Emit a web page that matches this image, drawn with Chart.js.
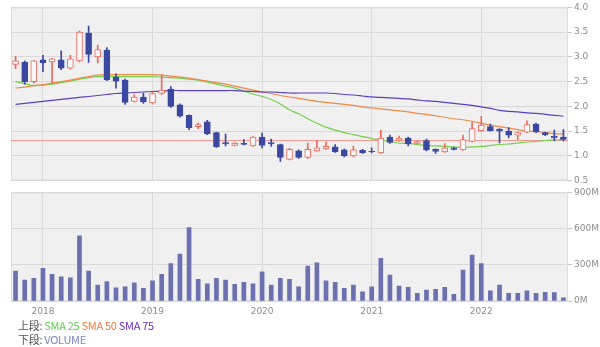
<!DOCTYPE html>
<html lang="ja">
<head>
<meta charset="utf-8">
<title>月足チャート</title>
<script src="https://cdn.jsdelivr.net/npm/chart.js@4/dist/chart.umd.min.js"></script>
<style>
  body {
    margin: 0;
    width: 600px;
    height: 347px;
    position: relative;
    overflow: hidden;
    background: #fff;
    font-family: "Noto Sans CJK JP", "Noto Sans", sans-serif;
  }
  #priceChart { position: absolute; left: 0; top: 0; }
  #volumeChart { position: absolute; left: 0; top: 185px; }
  .note {
    position: absolute;
    left: 18px;
    font-size: 11px;
    line-height: 14px;
    color: #555;
    letter-spacing: -0.3px;
    white-space: nowrap;
  }
  .sma25 { color: #5ccf4a; }
  .sma50 { color: #f07a3a; }
  .sma75 { color: #6a2db5; }
  .vol { color: #7a86bf; }
</style>
</head>
<body>
<canvas id="priceChart" width="600" height="188"></canvas>
<canvas id="volumeChart" width="600" height="135"></canvas>
<div class="note" style="top:318px">上段: <span class="sma25">SMA 25</span> <span class="sma50">SMA 50</span> <span class="sma75">SMA 75</span></div>
<div class="note" style="top:332px">下段: <span class="vol">VOLUME</span></div>

<script>
// 月足 (2017/10 〜 2022/10)
const months = [
  "2017-10", "2017-11", "2017-12",
  "2018-01", "2018-02", "2018-03", "2018-04", "2018-05", "2018-06",
  "2018-07", "2018-08", "2018-09", "2018-10", "2018-11", "2018-12",
  "2019-01", "2019-02", "2019-03", "2019-04", "2019-05", "2019-06",
  "2019-07", "2019-08", "2019-09", "2019-10", "2019-11", "2019-12",
  "2020-01", "2020-02", "2020-03", "2020-04", "2020-05", "2020-06",
  "2020-07", "2020-08", "2020-09", "2020-10", "2020-11", "2020-12",
  "2021-01", "2021-02", "2021-03", "2021-04", "2021-05", "2021-06",
  "2021-07", "2021-08", "2021-09", "2021-10", "2021-11", "2021-12",
  "2022-01", "2022-02", "2022-03", "2022-04", "2022-05", "2022-06",
  "2022-07", "2022-08", "2022-09", "2022-10"
];

const opens = [
  2.85, 2.89, 2.50,
  2.94, 2.90, 2.94, 2.77, 2.92, 3.48, 3.00, 3.14, 2.59, 2.53, 2.10, 2.19,
  2.07, 2.26, 2.35, 2.03, 1.82, 1.59, 1.69, 1.47, 1.27, 1.21, 1.26, 1.20,
  1.38, 1.27, 1.23, 0.93, 1.10, 0.97, 1.10, 1.14, 1.18, 1.12, 1.00, 1.11,
  1.09, 1.06, 1.38, 1.31, 1.36, 1.25, 1.31, 1.13, 1.08, 1.16, 1.12, 1.29,
  1.51, 1.59, 1.54, 1.50, 1.42, 1.48, 1.64, 1.47, 1.40, 1.38
];
const highs = [
  3.01, 2.92, 2.93,
  3.03, 2.97, 3.12, 3.03, 3.52, 3.62, 3.24, 3.19, 2.66, 2.55, 2.24, 2.27,
  2.29, 2.64, 2.40, 2.05, 1.83, 1.66, 1.72, 1.48, 1.44, 1.27, 1.33, 1.39,
  1.46, 1.34, 1.24, 1.15, 1.12, 1.26, 1.31, 1.28, 1.23, 1.14, 1.20, 1.13,
  1.16, 1.52, 1.42, 1.40, 1.38, 1.30, 1.34, 1.14, 1.25, 1.17, 1.42, 1.68,
  1.80, 1.64, 1.55, 1.57, 1.48, 1.71, 1.66, 1.48, 1.52, 1.53
];
const lows = [
  2.76, 2.45, 2.47,
  2.70, 2.47, 2.74, 2.75, 2.90, 2.89, 2.88, 2.52, 2.37, 2.04, 2.09, 2.06,
  2.05, 2.24, 1.98, 1.78, 1.53, 1.55, 1.43, 1.17, 1.20, 1.20, 1.22, 1.19,
  1.16, 1.19, 0.89, 0.92, 0.95, 0.95, 1.09, 1.13, 1.07, 0.98, 0.98, 1.05,
  1.06, 1.05, 1.25, 1.30, 1.20, 1.24, 1.10, 1.05, 1.07, 1.12, 1.11, 1.28,
  1.50, 1.50, 1.26, 1.36, 1.33, 1.47, 1.47, 1.41, 1.30, 1.30
];
const closes = [
  2.92, 2.50, 2.92,
  2.88, 2.96, 2.77, 2.96, 3.50, 3.05, 3.15, 2.54, 2.51, 2.08, 2.19, 2.09,
  2.26, 2.33, 2.00, 1.80, 1.57, 1.63, 1.45, 1.18, 1.24, 1.26, 1.23, 1.38,
  1.21, 1.24, 0.97, 1.13, 0.97, 1.13, 1.16, 1.19, 1.08, 1.00, 1.12, 1.06,
  1.08, 1.36, 1.27, 1.36, 1.24, 1.29, 1.12, 1.09, 1.16, 1.13, 1.33, 1.55,
  1.62, 1.51, 1.50, 1.42, 1.47, 1.63, 1.49, 1.43, 1.37, 1.33
];

// 移動平均
const sma25 = [
  2.50, 2.46, 2.42,
  2.43, 2.45, 2.48, 2.51, 2.55, 2.58, 2.60, 2.60, 2.60, 2.60, 2.60, 2.60,
  2.60, 2.59, 2.58, 2.57, 2.55, 2.53, 2.49, 2.45, 2.41, 2.37, 2.31, 2.25,
  2.20, 2.14, 2.05, 1.93, 1.85, 1.75, 1.66, 1.58, 1.52, 1.47, 1.43, 1.39,
  1.35, 1.32, 1.29, 1.26, 1.25, 1.23, 1.21, 1.20, 1.19, 1.18, 1.17, 1.18,
  1.19, 1.21, 1.23, 1.24, 1.26, 1.28, 1.29, 1.31, 1.32, 1.33
];
const sma50 = [
  2.37, 2.39, 2.42,
  2.44, 2.47, 2.50, 2.53, 2.57, 2.60, 2.63, 2.64, 2.64, 2.64, 2.64, 2.64,
  2.64, 2.63, 2.61, 2.59, 2.57, 2.54, 2.51, 2.48, 2.45, 2.41, 2.37, 2.33,
  2.29, 2.26, 2.22, 2.19, 2.16, 2.13, 2.10, 2.08, 2.06, 2.04, 2.02, 1.99,
  1.97, 1.95, 1.93, 1.91, 1.89, 1.86, 1.84, 1.81, 1.78, 1.75, 1.73, 1.70,
  1.66, 1.62, 1.59, 1.56, 1.53, 1.50, 1.49, 1.47, 1.45, 1.44
];
const sma75 = [
  2.04, 2.06, 2.08,
  2.10, 2.12, 2.14, 2.16, 2.18, 2.20, 2.22, 2.24, 2.26, 2.27, 2.28, 2.29,
  2.30, 2.31, 2.32, 2.32, 2.32, 2.32, 2.32, 2.32, 2.32, 2.32, 2.31, 2.30,
  2.29, 2.29, 2.28, 2.27, 2.27, 2.27, 2.27, 2.27, 2.26, 2.24, 2.23, 2.21,
  2.19, 2.18, 2.17, 2.16, 2.15, 2.13, 2.11, 2.10, 2.08, 2.06, 2.04, 2.02,
  1.99, 1.96, 1.92, 1.90, 1.89, 1.87, 1.86, 1.84, 1.82, 1.80
];

// 出来高 (百万株)
const volumes = [
  248, 174, 188,
  270, 220, 201, 193, 540, 248, 132, 160, 110, 118, 151, 105,
  168, 220, 311, 388, 609, 179, 143, 188, 174, 138, 155, 143,
  242, 132, 188, 179, 118, 289, 317, 168, 155, 105, 132, 77,
  118, 353, 215, 124, 113, 64, 91, 97, 113, 55, 256, 380,
  311, 85, 132, 64, 64, 85, 64, 72, 69, 27
];

const priceTicks = [0.5, 1.0, 1.5, 2.0, 2.5, 3.0, 3.5, 4.0];
const volumeTicks = [0, 300, 600, 900];

const UP_COLOR = "#ec6a5c";
const DOWN_COLOR = "#3a48a0";
const UP_FILL = "#f7f7f7";
const GRID_COLOR = "#d9d9d9";
const TICK_FONT = { family: "DejaVu Sans", size: 9 };
const TICK_COLOR = "#8c8c8c";

const isUp = (i) => closes[i] >= opens[i];
const isJanuary = (i) => months[i] && months[i].endsWith("-01");

// 描画領域の背景と枠
const plotBackground = {
  id: "plotBackground",
  beforeDraw(chart) {
    const { ctx, chartArea: a } = chart;
    ctx.save();
    ctx.fillStyle = "#f0f0f0";
    ctx.fillRect(a.left, a.top, a.width, a.height);
    ctx.strokeStyle = "#dcdcdc";
    ctx.lineWidth = 1;
    ctx.strokeRect(a.left + 0.5, a.top + 0.5, a.width - 1, a.height - 1);
    ctx.restore();
  }
};

// 現在値ライン (最終月の終値)
const lastCloseLine = {
  id: "lastCloseLine",
  beforeDatasetsDraw(chart) {
    const { ctx, chartArea: a, scales } = chart;
    const y = Math.round(scales.y.getPixelForValue(closes[closes.length - 1])) + 0.5;
    ctx.save();
    ctx.strokeStyle = "#f29a92";
    ctx.lineWidth = 1;
    ctx.beginPath();
    ctx.moveTo(a.left, y);
    ctx.lineTo(a.right, y);
    ctx.stroke();
    ctx.restore();
  }
};

function xAxis(showLabels) {
  return {
    offset: true,
    afterFit(scale) { scale.height = showLabels ? 19 : 0; },
    border: { display: false },
    grid: {
      offset: false,
      drawTicks: false,
      color: (c) => (isJanuary(c.index) ? GRID_COLOR : "rgba(0,0,0,0)")
    },
    ticks: {
      display: showLabels,
      autoSkip: false,
      maxRotation: 0,
      padding: 5,
      font: TICK_FONT,
      color: TICK_COLOR,
      callback: (v, i) => (isJanuary(i) ? months[i].slice(0, 4) : "")
    }
  };
}

function yAxis(min, max, step, label) {
  return {
    position: "right",
    min: min,
    max: max,
    afterFit(scale) { scale.width = 32; },
    border: { display: false },
    grid: { color: GRID_COLOR, tickLength: 4, tickColor: "#c8c8c8" },
    ticks: {
      stepSize: step,
      padding: 2,
      font: TICK_FONT,
      color: TICK_COLOR,
      callback: label
    }
  };
}

const smaLine = (label, data, color) => ({
  type: "line",
  label: label,
  data: data,
  borderColor: color,
  borderWidth: 1.2,
  pointRadius: 0,
  tension: 0.3,
  order: 10
});

new Chart(document.getElementById("priceChart"), {
  type: "bar",
  data: {
    labels: months,
    datasets: [
      smaLine("SMA 75", sma75, "#5a3fc0"),
      smaLine("SMA 50", sma50, "#f08848"),
      smaLine("SMA 25", sma25, "#72cf4e"),
      {
        label: "ヒゲ",
        data: lows.map((l, i) => [l, highs[i]]),
        backgroundColor: months.map((m, i) => (isUp(i) ? UP_COLOR : DOWN_COLOR)),
        barThickness: 1,
        grouped: false,
        order: 3
      },
      {
        label: "実体",
        data: opens.map((o, i) => [o, closes[i]]),
        backgroundColor: months.map((m, i) => (isUp(i) ? UP_FILL : DOWN_COLOR)),
        borderColor: months.map((m, i) => (isUp(i) ? UP_COLOR : DOWN_COLOR)),
        borderWidth: 1,
        borderSkipped: false,
        barThickness: 6,
        grouped: false,
        order: 2
      }
    ]
  },
  options: {
    responsive: false,
    animation: false,
    devicePixelRatio: 1,
    layout: { padding: { left: 11, top: 7, right: 0, bottom: 3 } },
    plugins: { legend: { display: false }, tooltip: { enabled: false } },
    scales: {
      x: xAxis(false),
      y: yAxis(priceTicks[0], priceTicks[priceTicks.length - 1], 0.5, (v) => Number(v).toFixed(1))
    }
  },
  plugins: [plotBackground, lastCloseLine]
});

new Chart(document.getElementById("volumeChart"), {
  type: "bar",
  data: {
    labels: months,
    datasets: [
      {
        label: "VOLUME",
        data: volumes,
        backgroundColor: "#6b70ae",
        barThickness: 4
      }
    ]
  },
  options: {
    responsive: false,
    animation: false,
    devicePixelRatio: 1,
    layout: { padding: { left: 11, top: 7, right: 0, bottom: 0 } },
    plugins: { legend: { display: false }, tooltip: { enabled: false } },
    scales: {
      x: xAxis(true),
      y: yAxis(volumeTicks[0], volumeTicks[volumeTicks.length - 1], 300, (v) => v + "M")
    }
  },
  plugins: [plotBackground]
});
</script>
</body>
</html>
